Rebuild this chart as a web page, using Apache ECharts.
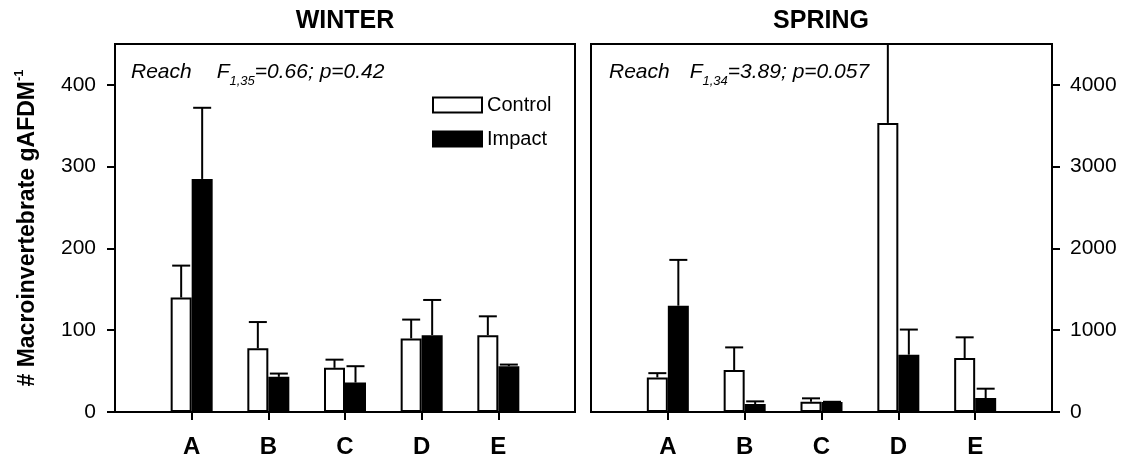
<!DOCTYPE html>
<html>
<head>
<meta charset="utf-8">
<title>Macroinvertebrate density by reach</title>
<script src="https://cdn.jsdelivr.net/npm/echarts@6/dist/echarts.min.js"></script>
<style>
  html, body { margin: 0; padding: 0; background: #fff; }
  #chart { width: 1125px; height: 461px; }
</style>
</head>
<body>
<div id="chart"></div>
<script>
// Sites along the reach
const categories = ['A', 'B', 'C', 'D', 'E'];

// Winter: mean and mean + SE (# macroinvertebrates per g AFDM)
const winterControl = [140, 78, 54, 90, 94];
const winterControlUpper = [179, 110, 64, 113, 117];
const winterImpact = [285, 43, 36, 94, 56];
const winterImpactUpper = [372, 47, 56, 137, 58];

// Spring: mean and mean + SE
const springControl = [423, 514, 126, 3535, 660];
const springControlUpper = [475, 790, 167, 5200, 913];
const springImpact = [1300, 98, 122, 701, 171];
const springImpactUpper = [1860, 130, 125, 1008, 285];

// Tick values
const winterTicks = [0, 100, 200, 300, 400];
const springTicks = [0, 1000, 2000, 3000, 4000];

const FONT = "'Liberation Sans', Arial, Helvetica, sans-serif";
const BAR_W = 21;     // bar width in px (stroke adds to it)
const CAP_W = 18;     // error-bar cap width in px

// Category axis padded with an empty slot on each side
const axisCats = [''].concat(categories, ['']);
const pairs = (vals) => vals.map((v, i) => [i + 1, v]);
const errPairs = (means, uppers) => means.map((v, i) => [i + 1, v, uppers[i]]);

function errorBars(side) {
  return function (params, api) {
    const idx = api.value(0);
    const base = api.coord([idx, api.value(1)]);
    const top = api.coord([idx, api.value(2)]);
    const cs = params.coordSys;
    const x = base[0] + side * BAR_W / 2;
    const clipped = top[1] < cs.y;
    const yTop = clipped ? cs.y : top[1];
    const stroke = { stroke: '#000', lineWidth: 2 };
    const children = [{
      type: 'line',
      shape: { x1: x, y1: base[1], x2: x, y2: yTop },
      style: stroke
    }];
    if (!clipped) {
      children.push({
        type: 'line',
        shape: { x1: x - CAP_W / 2, y1: yTop, x2: x + CAP_W / 2, y2: yTop },
        style: stroke
      });
    }
    return { type: 'group', children: children };
  };
}

function xAxisFor(gridIndex) {
  return {
    type: 'category',
    gridIndex: gridIndex,
    data: axisCats,
    boundaryGap: false,
    axisLine: { lineStyle: { color: '#000', width: 2 } },
    axisTick: {
      length: 8,
      interval: (i) => i > 0 && i < axisCats.length - 1,
      lineStyle: { color: '#000', width: 2 }
    },
    axisLabel: {
      interval: 0,
      margin: 23,
      color: '#000',
      fontFamily: FONT,
      fontWeight: 'bold',
      fontSize: 24
    },
    splitLine: { show: false }
  };
}

function yAxisFor(gridIndex, max, ticks, position, margin) {
  return {
    type: 'value',
    gridIndex: gridIndex,
    position: position,
    min: 0,
    max: max,
    axisLine: { show: true, lineStyle: { color: '#000', width: 2 } },
    axisTick: {
      show: true,
      length: 8,
      customValues: ticks,
      lineStyle: { color: '#000', width: 2 }
    },
    axisLabel: {
      customValues: ticks,
      formatter: (v) => String(v),
      margin: margin,
      color: '#000',
      fontFamily: FONT,
      fontSize: 21
    },
    splitLine: { show: false }
  };
}

const controlStyle = { color: '#fff', borderColor: '#000', borderWidth: 2 };
const impactStyle = { color: '#000', borderColor: '#000', borderWidth: 2 };

function barSeries(name, vals, axisIdx, style) {
  return {
    type: 'bar',
    name: name,
    xAxisIndex: axisIdx,
    yAxisIndex: axisIdx,
    barWidth: BAR_W,
    barGap: '0%',
    itemStyle: style,
    data: pairs(vals)
  };
}

function errSeries(name, means, uppers, axisIdx, side) {
  return {
    type: 'custom',
    name: name,
    xAxisIndex: axisIdx,
    yAxisIndex: axisIdx,
    z: 3,
    renderItem: errorBars(side),
    data: errPairs(means, uppers)
  };
}

function statText(x, head, sub, tail, gap) {
  const main = { fontFamily: FONT, fontStyle: 'italic', fontSize: 21, lineHeight: 26, verticalAlign: 'top', fill: '#000', color: '#000' };
  return {
    type: 'text',
    x: x,
    y: 62,
    style: {
      text: '{m|Reach}{sp| }{m|' + head + '}{s|' + sub + '}{m|' + tail + '}',
      verticalAlign: 'top',
      align: 'left',
      rich: {
        m: main,
        sp: Object.assign({}, main, { width: gap }),
        s: { fontFamily: FONT, fontStyle: 'italic', fontSize: 13, lineHeight: 11, verticalAlign: 'bottom', fill: '#000', color: '#000' }
      }
    }
  };
}

function titleText(x, text) {
  return {
    type: 'text',
    x: x,
    y: 21,
    style: {
      text: text,
      align: 'center',
      verticalAlign: 'middle',
      font: 'bold 25px ' + FONT,
      fill: '#000'
    }
  };
}

const chart = echarts.init(document.getElementById('chart'), null, { renderer: 'canvas' });

const yLeft = yAxisFor(0, 450, winterTicks, 'left', 19);
yLeft.name = '{m|# Macroinvertebrate gAFDM}{s|-1}';
yLeft.nameLocation = 'middle';
yLeft.nameRotate = 90;
yLeft.nameGap = 76;
yLeft.nameTextStyle = {
  rich: {
    m: { fontFamily: FONT, fontWeight: 'bold', fontSize: 23, lineHeight: 26, verticalAlign: 'bottom', color: '#000' },
    s: { fontFamily: FONT, fontWeight: 'bold', fontSize: 13, lineHeight: 13, verticalAlign: 'top', color: '#000' }
  }
};

chart.setOption({
  animation: false,
  backgroundColor: '#fff',
  grid: [
    { left: 115, top: 44, width: 460, height: 368, show: true, borderColor: '#000', borderWidth: 2, backgroundColor: '#fff' },
    { left: 591, top: 44, width: 461, height: 368, show: true, borderColor: '#000', borderWidth: 2, backgroundColor: '#fff' }
  ],
  legend: {
    orient: 'vertical',
    left: 427,
    top: 90,
    itemWidth: 49,
    itemHeight: 15,
    itemGap: 14,
    icon: 'rect',
    textStyle: { fontFamily: FONT, fontSize: 20, color: '#000' },
    data: [
      { name: 'Control', itemStyle: { color: '#fff', borderColor: '#000', borderWidth: 2 } },
      { name: 'Impact', itemStyle: { color: '#000', borderColor: '#000', borderWidth: 2 } }
    ]
  },
  xAxis: [xAxisFor(0), xAxisFor(1)],
  yAxis: [yLeft, yAxisFor(1, 4500, springTicks, 'right', 18)],
  series: [
    barSeries('Control', winterControl, 0, controlStyle),
    barSeries('Impact', winterImpact, 0, impactStyle),
    errSeries('Control', winterControl, winterControlUpper, 0, -1),
    errSeries('Impact', winterImpact, winterImpactUpper, 0, 1),
    barSeries('Control', springControl, 1, controlStyle),
    barSeries('Impact', springImpact, 1, impactStyle),
    errSeries('Control', springControl, springControlUpper, 1, -1),
    errSeries('Impact', springImpact, springImpactUpper, 1, 1)
  ],
  graphic: [
    titleText(345, 'WINTER'),
    titleText(821, 'SPRING'),
    statText(131, 'F', '1,35', '=0.66; p=0.42', 25),
    statText(609, 'F', '1,34', '=3.89; p=0.057', 20)
  ]
});
</script>
</body>
</html>
